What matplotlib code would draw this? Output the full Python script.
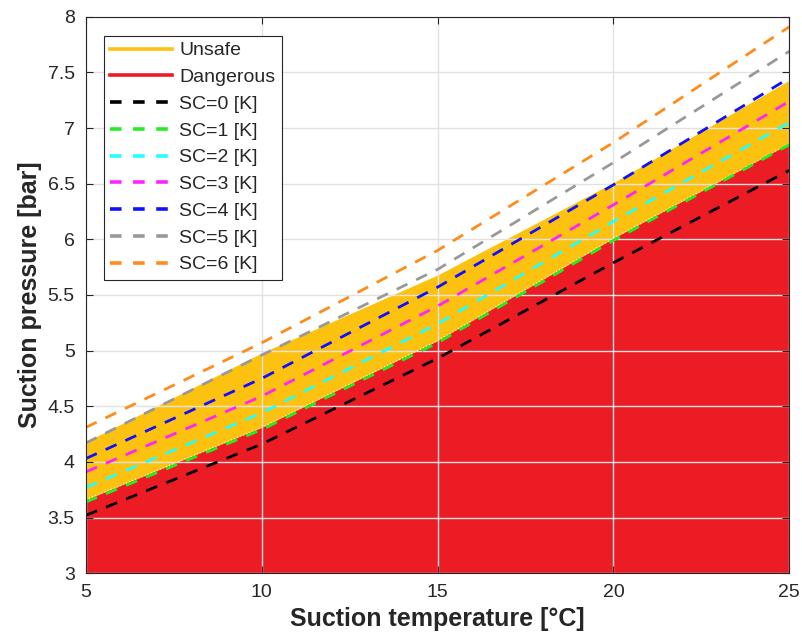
import matplotlib
matplotlib.use("Agg")
import matplotlib.pyplot as plt
from matplotlib.lines import Line2D

# ---- data ----
temps = [5, 10, 15, 20, 25]
sc0 = [3.52, 4.16, 4.93, 5.79, 6.62]
sc1 = [3.64, 4.29, 5.07, 5.99, 6.85]
sc2 = [3.77, 4.44, 5.24, 6.16, 7.05]
sc3 = [3.91, 4.59, 5.40, 6.31, 7.24]
sc4 = [4.03, 4.75, 5.57, 6.49, 7.45]
sc5 = [4.17, 4.96, 5.73, 6.69, 7.69]
sc6 = [4.31, 5.07, 5.90, 6.87, 7.91]
unsafe_top = [4.18, 4.98, 5.68, 6.51, 7.43]
danger_top = [3.66, 4.31, 5.09, 6.01, 6.86]
sc_labels = ["SC=0 [K]", "SC=1 [K]", "SC=2 [K]", "SC=3 [K]", "SC=4 [K]", "SC=5 [K]", "SC=6 [K]"]
sc_series = [sc0, sc1, sc2, sc3, sc4, sc5, sc6]
sc_colors = ["#000000", "#22EE22", "#22FFFF", "#FF22FF", "#1010FF", "#999999", "#FF8C1A"]
yellow = "#FDC20F"
red = "#EC1C24"

plt.rcParams['font.family'] = ['Liberation Sans', 'DejaVu Sans']

fig = plt.figure(figsize=(8.03, 6.44), dpi=100)
ax = fig.add_axes([0.107, 0.110, 0.876, 0.864])

ax.fill_between(temps, 3, unsafe_top, color=yellow, lw=0, zorder=1)
ax.fill_between(temps, 3, danger_top, color=red, lw=0, zorder=1.1)
ax.plot(temps, unsafe_top, color='white', lw=0.8, ls=(0, (1, 2)), zorder=1.2)
ax.plot(temps, danger_top, color='white', lw=0.8, ls=(0, (1, 2)), zorder=1.2)

for ys, c in zip(sc_series, sc_colors):
    ax.plot(temps, ys, color=c, lw=2.0, dashes=(4.3, 3.5), zorder=3)

ax.set_xlim(5, 25)
ax.set_ylim(3, 8)
ax.set_xticks([5, 10, 15, 20, 25])
ax.set_yticks([3, 3.5, 4, 4.5, 5, 5.5, 6, 6.5, 7, 7.5, 8])
ax.set_yticklabels(["3", "3.5", "4", "4.5", "5", "5.5", "6", "6.5", "7", "7.5", "8"])
ax.set_axisbelow(False)
ax.grid(True, color='#e2e2e2', lw=1.0, zorder=2.5)
ax.tick_params(direction='in', length=5, width=0.8, colors='#262626',
               labelsize=14, top=True, right=True, pad=8)
for s in ax.spines.values():
    s.set_color('#262626')
    s.set_linewidth(0.8)
    s.set_zorder(4)

ax.set_xlabel("Suction temperature [°C]", fontsize=18, fontweight='bold', color='#262626', labelpad=4)
ax.set_ylabel("Suction pressure [bar]", fontsize=18, fontweight='bold', color='#262626', labelpad=4)

handles = [Line2D([], [], color=yellow, lw=2.6), Line2D([], [], color=red, lw=2.6)]
handles += [Line2D([], [], color=c, lw=2.6, dashes=(3.2, 3.2)) for c in sc_colors]
labels = ["Unsafe", "Dangerous"] + sc_labels
leg = ax.legend(handles, labels, loc='upper left', bbox_to_anchor=(0.0256, 0.966),
                fontsize=14, frameon=True, fancybox=False, framealpha=1,
                edgecolor='#262626', handlelength=3.2, labelspacing=0.47,
                borderpad=0.32, handletextpad=0.35, borderaxespad=0)
for t in leg.get_texts():
    t.set_color('#262626')
leg.get_frame().set_linewidth(0.8)
leg.set_zorder(5)

fig.savefig("out.png", dpi=100)
